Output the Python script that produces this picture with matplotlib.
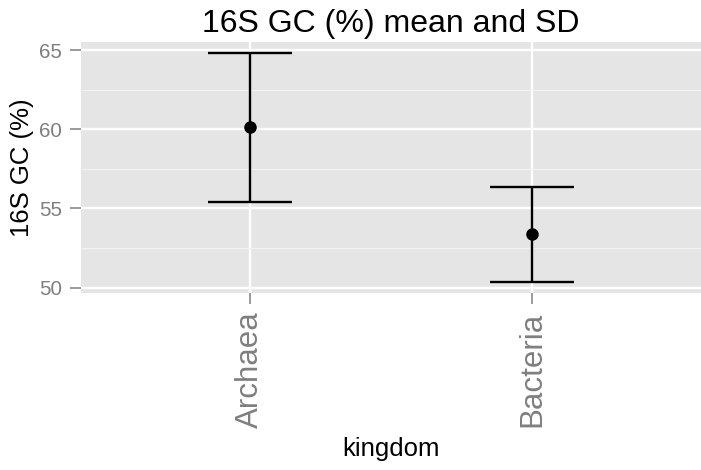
import numpy as np
import matplotlib
matplotlib.use('Agg')
import matplotlib.pyplot as plt

# values
kingdoms = ["Archaea", "Bacteria"]
gc_mean = [60.12, 53.37]
gc_sd = [4.68, 2.99]

plt.rcParams['font.family'] = ['Liberation Sans', 'DejaVu Sans']

fig = plt.figure(figsize=(7.01, 4.70), dpi=100)
ax = fig.add_axes([81/701., 1 - 293/470., 620/701., (293 - 42)/470.])
ax.set_facecolor('#e5e5e5')

x = np.arange(len(kingdoms))
mean = np.array(gc_mean)
sd = np.array(gc_sd)

ax.errorbar(x, mean, yerr=sd, fmt='o', color='black', ms=8, lw=1.7,
            capsize=30.5, capthick=1.7, zorder=3)

# ggplot-like limits: 5% expansion on y, 0.6 units on discrete x
lo, hi = (mean - sd).min(), (mean + sd).max()
pad = 0.05 * (hi - lo)
ax.set_ylim(lo - pad, hi + pad)
ax.set_xlim(-0.6, len(kingdoms) - 1 + 0.6)

ax.set_yticks([50, 55, 60, 65])
ax.set_yticks([52.5, 57.5, 62.5], minor=True)
ax.set_xticks(x)
ax.set_xticklabels(kingdoms, rotation=90, fontsize=22.5, color='#7f7f7f')

ax.grid(which='major', color='white', lw=1.7)
ax.grid(which='minor', axis='y', color='#f2f2f2', lw=0.8)
ax.set_axisbelow(True)
for s in ax.spines.values():
  s.set_visible(False)

ax.tick_params(axis='both', which='major', length=8, width=1.1, color='#7f7f7f', pad=5.5)
ax.tick_params(axis='y', which='major', labelsize=14.8, labelcolor='#7f7f7f')
ax.tick_params(axis='y', which='minor', length=0)

ax.set_xlabel('kingdom', fontsize=18.5, labelpad=6)
ax.set_ylabel('16S GC (%)', fontsize=18.5, va='center')
ax.yaxis.set_label_coords(-58.5/620., 0.5)
ax.set_title('16S GC (%) mean and SD', fontsize=23, pad=7)

plt.savefig('out.png', dpi=100)
